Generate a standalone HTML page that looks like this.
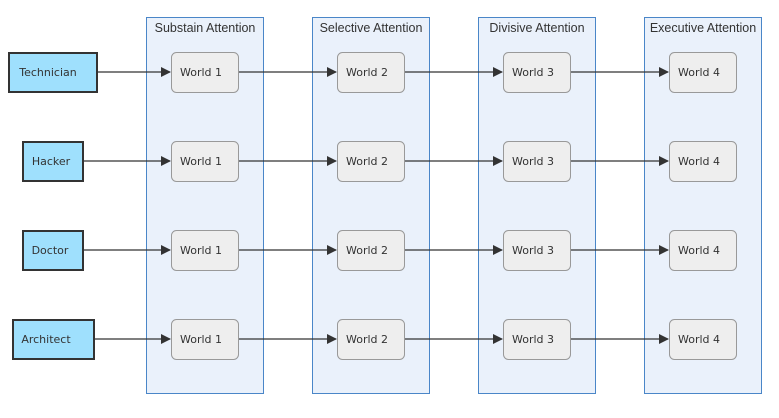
<!DOCTYPE html><html><head><style>body{margin:0;background:#fff}</style></head><body>
<svg width="779" height="413" xmlns="http://www.w3.org/2000/svg" font-family="DejaVu Sans, sans-serif">
<defs><marker id="a" markerWidth="10" markerHeight="10" refX="9" refY="5" orient="auto" markerUnits="userSpaceOnUse"><path d="M0,0L10,5L0,10z" fill="#333"/></marker></defs>
<g fill="#eaf1fb" stroke="#4a86c8" stroke-width="1">
<rect x="146.5" y="17.5" width="117" height="376"/><rect x="312.5" y="17.5" width="117" height="376"/><rect x="478.5" y="17.5" width="117" height="376"/><rect x="644.5" y="17.5" width="117" height="376"/></g>
<g font-size="12.5" fill="#333" text-anchor="middle" font-family="Liberation Sans, sans-serif">
<text x="205" y="32">Substain Attention</text><text x="371" y="32">Selective Attention</text><text x="537" y="32">Divisive Attention</text><text x="703" y="32">Executive Attention</text></g>
<g stroke="#333" stroke-width="1.2" marker-end="url(#a)">
<line x1="97" y1="72" x2="170" y2="72"/><line x1="83" y1="161" x2="170" y2="161"/><line x1="83" y1="250" x2="170" y2="250"/><line x1="94" y1="339" x2="170" y2="339"/>
<line x1="238" y1="72" x2="336" y2="72"/><line x1="238" y1="161" x2="336" y2="161"/><line x1="238" y1="250" x2="336" y2="250"/><line x1="238" y1="339" x2="336" y2="339"/>
<line x1="404" y1="72" x2="502" y2="72"/><line x1="404" y1="161" x2="502" y2="161"/><line x1="404" y1="250" x2="502" y2="250"/><line x1="404" y1="339" x2="502" y2="339"/>
<line x1="570" y1="72" x2="668" y2="72"/><line x1="570" y1="161" x2="668" y2="161"/><line x1="570" y1="250" x2="668" y2="250"/><line x1="570" y1="339" x2="668" y2="339"/></g>
<g fill="#9fe0fd" stroke="#333" stroke-width="2">
<rect x="9" y="53" width="88" height="39"/><rect x="23" y="142" width="60" height="39"/><rect x="23" y="231" width="60" height="39"/><rect x="13" y="320" width="81" height="39"/></g>
<g font-size="11" fill="#333" text-anchor="middle">
<text x="48" y="76">Technician</text><text x="51" y="165">Hacker</text><text x="50" y="254">Doctor</text><text x="46" y="343">Architect</text></g>
<g fill="#eee" stroke="#999" stroke-width="1">
<rect x="171.5" y="52.5" width="67" height="40" rx="5"/><rect x="171.5" y="141.5" width="67" height="40" rx="5"/><rect x="171.5" y="230.5" width="67" height="40" rx="5"/><rect x="171.5" y="319.5" width="67" height="40" rx="5"/>
<rect x="337.5" y="52.5" width="67" height="40" rx="5"/><rect x="337.5" y="141.5" width="67" height="40" rx="5"/><rect x="337.5" y="230.5" width="67" height="40" rx="5"/><rect x="337.5" y="319.5" width="67" height="40" rx="5"/>
<rect x="503.5" y="52.5" width="67" height="40" rx="5"/><rect x="503.5" y="141.5" width="67" height="40" rx="5"/><rect x="503.5" y="230.5" width="67" height="40" rx="5"/><rect x="503.5" y="319.5" width="67" height="40" rx="5"/>
<rect x="669.5" y="52.5" width="67" height="40" rx="5"/><rect x="669.5" y="141.5" width="67" height="40" rx="5"/><rect x="669.5" y="230.5" width="67" height="40" rx="5"/><rect x="669.5" y="319.5" width="67" height="40" rx="5"/></g>
<g font-size="11" fill="#333" text-anchor="middle">
<text x="201" y="76">World 1</text><text x="201" y="165">World 1</text><text x="201" y="254">World 1</text><text x="201" y="343">World 1</text>
<text x="367" y="76">World 2</text><text x="367" y="165">World 2</text><text x="367" y="254">World 2</text><text x="367" y="343">World 2</text>
<text x="533" y="76">World 3</text><text x="533" y="165">World 3</text><text x="533" y="254">World 3</text><text x="533" y="343">World 3</text>
<text x="699" y="76">World 4</text><text x="699" y="165">World 4</text><text x="699" y="254">World 4</text><text x="699" y="343">World 4</text></g>
</svg></body></html>
